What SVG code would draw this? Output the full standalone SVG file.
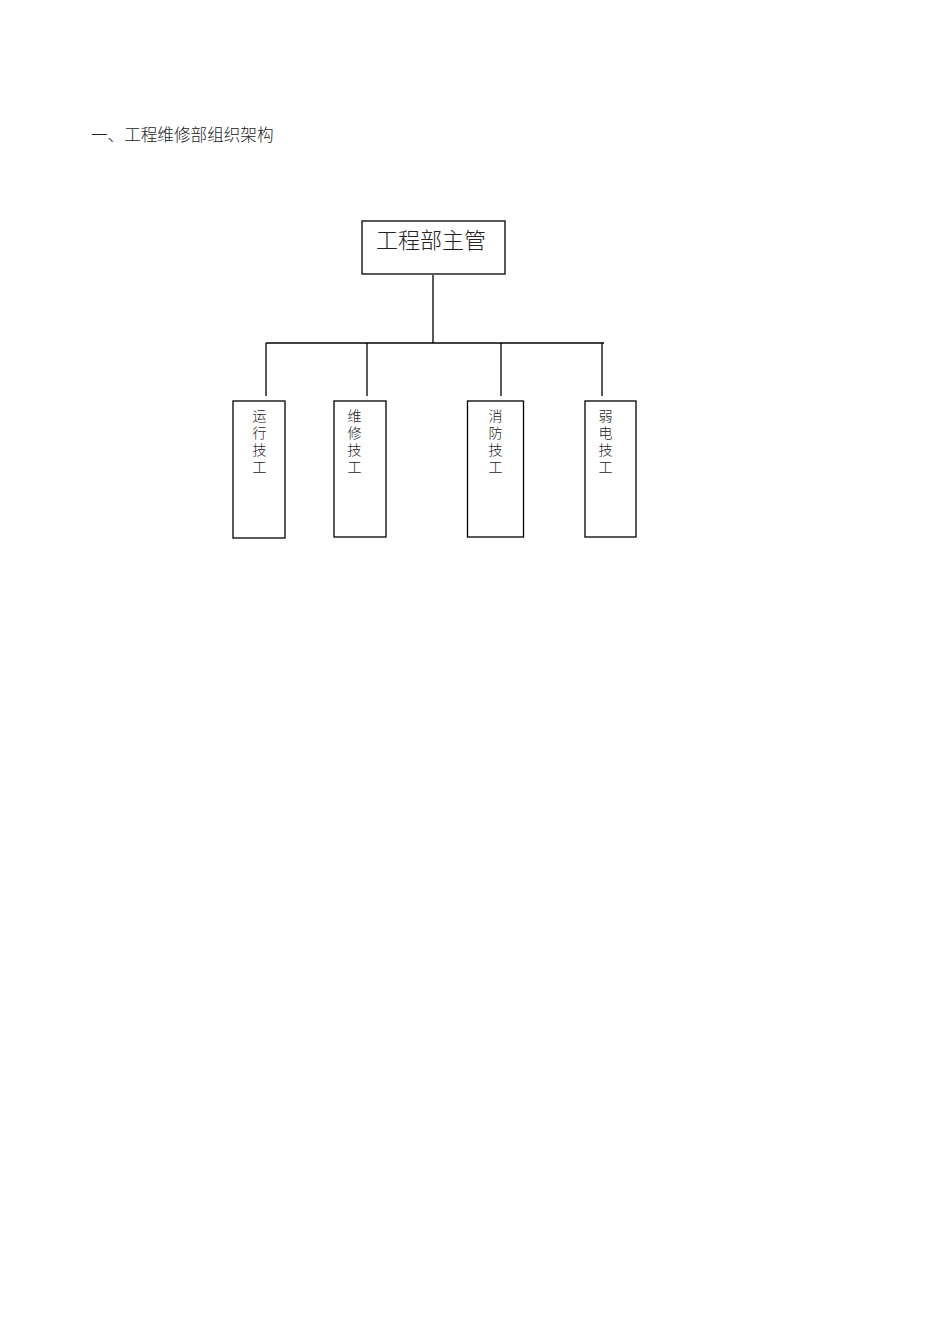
<svg xmlns="http://www.w3.org/2000/svg" width="950" height="1344" viewBox="0 0 950 1344">
<style>
.box{fill:#fff;stroke:#000;stroke-width:1.3}
.ln{stroke:#000;stroke-width:1.3;fill:none}
text{font-family:"Noto Sans CJK SC","Liberation Serif",serif;fill:#222;font-weight:300}
.v{font-size:14px;writing-mode:vertical-rl;letter-spacing:3px}
</style>
<rect width="950" height="1344" fill="#fff"/>
<text x="91" y="141" font-size="16.6">一、工程维修部组织架构</text>
<g id="connectors">
<line class="ln" x1="433" y1="275" x2="433" y2="343"/>
<line class="ln" x1="266" y1="343" x2="604" y2="343"/>
<line class="ln" x1="266" y1="343" x2="266" y2="396"/>
<line class="ln" x1="367" y1="343" x2="367" y2="396"/>
<line class="ln" x1="501" y1="343" x2="501" y2="396"/>
<line class="ln" x1="602" y1="343" x2="602" y2="396"/>
</g>
<g id="n-main">
<rect class="box" x="362" y="221" width="143" height="53"/>
<text x="431" y="248" font-size="22" text-anchor="middle">工程部主管</text>
</g>
<g id="n-yunxing">
<rect class="box" x="233" y="401" width="52" height="137"/>
<text class="v" x="259.5" y="409">运行技工</text>
</g>
<g id="n-weixiu">
<rect class="box" x="334" y="401" width="52" height="136"/>
<text class="v" x="354.5" y="409">维修技工</text>
</g>
<g id="n-xiaofang">
<rect class="box" x="467.5" y="401" width="56" height="136"/>
<text class="v" x="495.5" y="409">消防技工</text>
</g>
<g id="n-ruodian">
<rect class="box" x="585" y="401" width="51" height="136"/>
<text class="v" x="605.5" y="409">弱电技工</text>
</g>
</svg>
